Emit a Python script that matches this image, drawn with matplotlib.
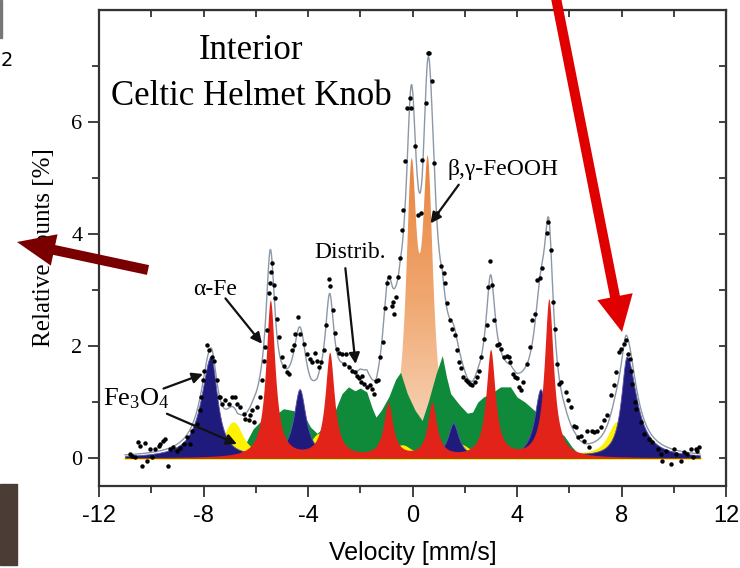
import numpy as np
import matplotlib
matplotlib.use("Agg")
import matplotlib.pyplot as plt
from matplotlib.colors import LinearSegmentedColormap
from matplotlib.patches import FancyArrow, Rectangle
from matplotlib.transforms import IdentityTransform

velocity = [
    -10.80, -10.74, -10.62, -10.49, -10.42, -10.36, -10.23, -10.17, -10.04, -9.97,
    -9.85, -9.72, -9.66, -9.55, -9.46, -9.34, -9.27, -9.15, -9.02, -8.89,
    -8.76, -8.63, -8.51, -8.44, -8.25, -8.15, -8.10, -8.02, -7.97, -7.87,
    -7.79, -7.67, -7.61, -7.50, -7.42, -7.35, -7.29, -7.16, -7.04, -6.91,
    -6.78, -6.72, -6.59, -6.46, -6.40, -6.27, -6.21, -6.14, -6.08, -5.95,
    -5.82, -5.76, -5.70, -5.63, -5.57, -5.50, -5.44, -5.41, -5.39, -5.31,
    -5.25, -5.18, -5.12, -4.99, -4.93, -4.80, -4.74, -4.61, -4.55, -4.48,
    -4.40, -4.32, -4.16, -4.03, -3.93, -3.84, -3.74, -3.65, -3.59, -3.52,
    -3.40, -3.31, -3.21, -3.14, -3.05, -2.95, -2.89, -2.82, -2.69, -2.63,
    -2.54, -2.44, -2.31, -2.21, -2.12, -2.06, -1.99, -1.93, -1.87, -1.74,
    -1.61, -1.54, -1.48, -1.39, -1.31, -1.23, -1.14, -1.06, -0.97, -0.91,
    -0.80, -0.75, -0.72, -0.65, -0.55, -0.46, -0.42, -0.36, -0.27, -0.20,
    -0.08, -0.04, 0.08, 0.20, 0.31, 0.37, 0.50, 0.59, 0.65, 0.73,
    0.84, 0.95, 1.10, 1.20, 1.24, 1.33, 1.43, 1.52, 1.61, 1.69,
    1.77, 1.87, 1.94, 2.03, 2.12, 2.20, 2.29, 2.38, 2.45, 2.54,
    2.63, 2.73, 2.84, 2.89, 2.96, 3.05, 3.11, 3.24, 3.31, 3.37,
    3.50, 3.60, 3.69, 3.75, 3.86, 3.91, 4.01, 4.07, 4.14, 4.24,
    4.39, 4.49, 4.59, 4.67, 4.78, 4.88, 4.97, 5.16, 5.20, 5.29,
    5.38, 5.45, 5.53, 5.61, 5.67, 5.86, 5.96, 6.05, 6.18, 6.27,
    6.35, 6.44, 6.56, 6.69, 6.76, 6.86, 6.95, 7.08, 7.20, 7.33,
    7.46, 7.59, 7.71, 7.78, 7.90, 7.97, 8.10, 8.19, 8.26, 8.31,
    8.35, 8.42, 8.52, 8.57, 8.74, 8.86, 9.05, 9.18, 9.38, 9.50,
    9.54, 9.69, 9.89, 10.01, 10.08, 10.27, 10.40, 10.52, 10.65, 10.72,
    10.84, 10.90, 10.97,
]
counts = [
    0.08, 0.04, 0.02, 0.28, 0.22, -0.14, 0.26, -0.05, 0.16, 0.02,
    0.16, 0.22, 0.25, 0.31, 0.34, -0.14, 0.16, 0.19, 0.13, 0.18,
    0.25, 0.37, 0.25, 0.49, 0.61, 0.85, 1.09, 1.39, 1.56, 2.01,
    1.92, 1.80, 1.74, 1.40, 1.09, 1.09, 0.97, 1.03, 0.97, 1.09,
    1.09, 0.97, 0.91, 0.79, 0.70, 0.67, 0.76, 0.85, 0.64, 0.91,
    1.09, 1.40, 1.74, 1.98, 2.28, 2.94, 3.12, 3.33, 3.48, 3.09,
    2.85, 2.49, 2.16, 1.80, 1.65, 1.53, 1.50, 1.92, 2.01, 2.22,
    2.52, 2.22, 2.04, 1.86, 1.77, 1.71, 1.87, 1.74, 1.62, 1.71,
    1.92, 2.37, 3.19, 3.07, 2.64, 2.23, 1.95, 1.87, 1.86, 1.68,
    1.86, 1.62, 1.56, 1.53, 1.47, 1.42, 1.35, 1.47, 1.33, 1.27,
    1.30, 1.24, 1.15, 1.37, 1.39, 1.80, 2.07, 2.67, 3.12, 3.24,
    2.71, 2.79, 2.57, 2.88, 3.24, 3.57, 4.07, 4.43, 5.30, 6.25,
    6.43, 6.25, 5.57, 4.34, 4.37, 5.33, 6.34, 7.24, 7.23, 6.73,
    5.27, 4.37, 3.42, 3.30, 3.12, 2.76, 2.46, 2.30, 2.19, 1.92,
    1.71, 1.60, 1.44, 1.39, 1.35, 1.33, 1.31, 1.35, 1.44, 1.56,
    1.80, 2.13, 2.37, 3.06, 3.51, 3.09, 2.46, 2.01, 2.04, 1.95,
    1.80, 1.83, 1.80, 1.71, 1.50, 1.44, 1.42, 1.27, 1.21, 1.35,
    1.68, 1.98, 2.46, 2.58, 3.18, 3.21, 3.39, 4.01, 4.22, 3.72,
    2.79, 2.30, 1.68, 1.33, 1.36, 1.18, 1.03, 0.91, 0.58, 0.55,
    0.37, 0.40, 0.31, 0.49, 0.20, 0.49, 0.46, 0.48, 0.55, 0.67,
    0.76, 1.12, 1.30, 1.53, 1.89, 1.95, 2.04, 2.10, 1.86, 1.77,
    1.56, 1.33, 1.00, 0.88, 0.64, 0.43, 0.34, 0.28, 0.16, 0.07,
    -0.05, 0.13, -0.11, 0.16, 0.07, -0.05, 0.10, 0.07, 0.16, 0.01,
    0.16, 0.13, 0.19,
]

# subspectra: line positions [mm/s], heights [%], half widths [mm/s]
alpha_fe_pos = [-5.44, -3.17, -0.93, 0.75, 2.99, 5.22]
alpha_fe_amp = [2.80, 1.85, 0.95, 0.95, 1.90, 2.82]
alpha_fe_hw = [0.21, 0.21, 0.21, 0.21, 0.21, 0.21]

fe3o4_b_pos = [-7.72, -4.32, -0.97, 1.56, 4.90, 8.20]
fe3o4_b_amp = [1.80, 1.21, 0.60, 0.60, 1.21, 1.80]
fe3o4_b_hw_left = [0.45, 0.28, 0.25, 0.25, 0.28, 0.26]
fe3o4_b_hw_right = [0.30, 0.28, 0.25, 0.25, 0.28, 0.45]

fe3o4_a_pos = [-6.86, -3.56, -0.40, 1.84, 4.90, 7.84]
fe3o4_a_amp = [0.61, 0.40, 0.19, 0.20, 0.41, 0.61]
fe3o4_a_hw = [0.40, 0.40, 0.40, 0.40, 0.40, 0.40]

feooh_pos = [-0.04, 0.59]
feooh_amp = [4.70, 4.75]
feooh_hw = [0.25, 0.25]

# hyperfine field distribution (green), outline
distrib_vel = [-6.7, -6.4, -6.1, -5.8, -5.4, -4.94, -4.6, -4.2, -3.9, -3.65,
               -3.4, -3.0, -2.7, -2.45, -2.2, -2.0, -1.75, -1.55, -1.4, -1.2,
               -0.9, -0.65, -0.46, -0.2, 0.1, 0.37, 0.6, 0.9, 1.14, 1.3,
               1.46, 1.8, 2.1, 2.3, 2.5, 2.72, 3.0, 3.37, 3.75, 4.0,
               4.3, 4.52, 4.9, 5.2, 5.5, 5.8, 6.1, 6.4, 6.6]
distrib_cnt = [0.0, 0.25, 0.52, 0.66, 0.72, 0.88, 0.85, 0.8, 0.55, 0.44,
               0.55, 0.8, 1.15, 1.27, 1.2, 1.25, 1.18, 0.9, 0.73, 0.85,
               1.1, 1.4, 1.53, 1.15, 0.85, 0.67, 1.0, 1.5, 1.83, 1.45,
               1.15, 0.95, 0.8, 0.82, 1.0, 1.09, 1.15, 1.27, 1.27, 1.09,
               1.0, 0.91, 0.75, 0.6, 0.5, 0.4, 0.2, 0.05, 0.0]

x_ticks = [-12, -8, -4, 0, 4, 8, 12]
x_tick_labels = ["-12", "-8", "-4", "0", "4", "8", "12"]
y_ticks = [0, 2, 4, 6]
y_tick_labels = ["0", "2", "4", "6"]

SERIF = ["Liberation Serif", "DejaVu Serif"]
NARROW = ["Liberation Sans Narrow", "Liberation Sans", "DejaVu Sans"]


def lines(v, pos, amp, hw_left, hw_right=None):
    """Sum of (optionally asymmetric) Lorentzian lines."""
    if hw_right is None:
        hw_right = hw_left
    out = np.zeros_like(v)
    for c, a, wl, wr in zip(pos, amp, hw_left, hw_right):
        w = np.where(v < c, wl, wr)
        out += a / (1.0 + ((v - c) / w) ** 2)
    return out


def main():
    plt.rcParams["axes.unicode_minus"] = False
    plt.rcParams["mathtext.fontset"] = "custom"
    plt.rcParams["mathtext.rm"] = "Liberation Serif"
    plt.rcParams["mathtext.it"] = "Liberation Serif:italic"

    v = np.linspace(-11.0, 11.0, 2201)
    red = lines(v, alpha_fe_pos, alpha_fe_amp, alpha_fe_hw)
    blue = lines(v, fe3o4_b_pos, fe3o4_b_amp, fe3o4_b_hw_left, fe3o4_b_hw_right)
    yellow = lines(v, fe3o4_a_pos, fe3o4_a_amp, fe3o4_a_hw)
    orange = lines(v, feooh_pos, feooh_amp, feooh_hw)
    green = np.interp(v, distrib_vel, distrib_cnt)
    total = red + blue + yellow + orange + green

    fig = plt.figure(figsize=(7.4, 5.68), dpi=100)
    ax = fig.add_axes([99 / 740, 82 / 568, 627 / 740, 476 / 568])

    # orange doublet with vertical colour gradient
    poly = ax.fill_between(v, 0, orange, color="none", lw=0)
    cmap = LinearSegmentedColormap.from_list("feooh", ["#F8DCC6", "#F0A871", "#E7803A"])
    grad = np.linspace(0, 1, 256).reshape(-1, 1)
    im = ax.imshow(grad, extent=(-1.5, 2.0, 0, 5.6), origin="lower", aspect="auto",
                   cmap=cmap, zorder=1)
    im.set_clip_path(poly.get_paths()[0], transform=ax.transData)

    ax.fill_between(distrib_vel, 0, distrib_cnt, color="#0E8A3A", lw=0, zorder=2)
    ax.fill_between(v, 0, yellow, facecolor="#FFF200", edgecolor="#FFF200", lw=2.2,
                    zorder=3)
    ax.fill_between(v, 0, blue, facecolor="#1F1B7D", edgecolor="#5A57A8", lw=0.6,
                    zorder=4)
    ax.fill_between(v, 0, red, color="#E2231A", lw=0, zorder=5)
    ax.plot(v, total, color="#8C98A8", lw=1.0, zorder=6)
    ax.plot(velocity, counts, "o", ms=3.2, color="black", mec="none", zorder=7)

    ax.set_xlim(-12, 12)
    ax.set_ylim(-0.5, 8.0)
    ax.set_xticks(x_ticks)
    ax.set_xticklabels(x_tick_labels)
    ax.set_xticks(np.arange(-10, 12, 4), minor=True)
    ax.set_yticks(y_ticks)
    ax.set_yticklabels(y_tick_labels)
    ax.set_yticks([1, 3, 5, 7], minor=True)
    ax.tick_params(which="major", direction="out", length=8, width=1.3, color="#333333")
    ax.tick_params(which="minor", direction="out", length=5, width=1.3, color="#333333")
    ax.tick_params(axis="x", labelsize=17, pad=6, labelfontfamily=NARROW)
    ax.tick_params(axis="y", labelsize=16, pad=4, labelfontfamily=SERIF)
    for s in ax.spines.values():
        s.set_linewidth(1.6)
        s.set_color("#333333")

    top = ax.secondary_xaxis("top")
    top.set_xticks(np.arange(-12, 13, 2))
    top.tick_params(direction="in", length=5, width=1.3, color="#333333", labeltop=False)
    right = ax.secondary_yaxis("right")
    right.set_yticks(np.arange(0, 8, 1))
    right.tick_params(direction="in", length=5, width=1.3, color="#333333", labelright=False)

    ax.set_xlabel("Velocity [mm/s]", fontsize=18, family=NARROW, labelpad=10)
    ax.set_ylabel("Relative counts [%]", fontsize=18, family=SERIF, labelpad=12)

    ax.text(-6.17, 7.12, "Interior", ha="center", va="baseline", fontsize=25, family=SERIF)
    ax.text(-6.15, 6.30, "Celtic Helmet Knob", ha="center", va="baseline", fontsize=25,
            family=SERIF)

    ax.text(-7.55, 2.91, "\u03b1-Fe", ha="center", va="baseline", fontsize=17, family=SERIF)
    ax.text(-2.38, 3.57, "Distrib.", ha="center", va="baseline", fontsize=17, family=SERIF)
    ax.text(3.45, 5.06, "\u03b2,\u03b3-FeOOH", ha="center", va="baseline", fontsize=17,
            family=SERIF)
    ax.text(-11.83, 0.94, r"$\mathrm{Fe_3O_4}$", ha="left", va="baseline", fontsize=19)

    arrows = [((-7.16, 2.85), (-5.76, 2.04)),
              ((-9.53, 1.24), (-8.02, 1.50)),
              ((-9.40, 0.79), (-6.72, 0.25)),
              ((-2.57, 3.39), (-2.18, 1.68)),
              ((1.77, 4.88), (0.69, 4.19))]
    for tail, head in arrows:
        ax.annotate("", xy=head, xytext=tail, zorder=8,
                    arrowprops=dict(arrowstyle="-|>", color="#111111", lw=1.6,
                                    mutation_scale=16, shrinkA=0, shrinkB=0))

    # overlay marks on the screenshot (pixel coordinates, origin bottom-left)
    px = IdentityTransform()
    fig.add_artist(FancyArrow(148, 298, -131, 28, width=10, head_width=32,
                              head_length=38, length_includes_head=True,
                              color="#7A0000", lw=0, transform=px, zorder=20))
    fig.add_artist(FancyArrow(555, 575, 67, -339, width=10, head_width=36,
                              head_length=36, length_includes_head=True,
                              color="#E00000", lw=0, transform=px, zorder=20))
    fig.add_artist(Rectangle((0, 3), 17, 81, color="#4B3C35", transform=px, zorder=20))
    fig.add_artist(Rectangle((0, 530), 1.5, 38, color="#777777", transform=px, zorder=20))
    fig.text(0.5 / 740, 1 - 60 / 568, "2", fontsize=14, va="center", ha="left",
             family="DejaVu Sans")

    fig.savefig("out.png", dpi=100)


if __name__ == "__main__":
    main()
